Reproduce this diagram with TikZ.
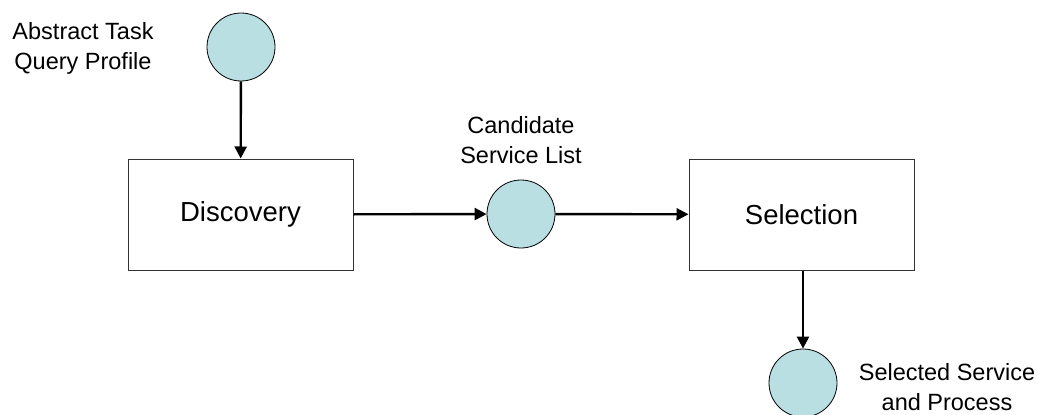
\documentclass[tikz,border=0pt]{standalone}
\usepackage{fontspec}
\setmainfont{Liberation Sans}
\usetikzlibrary{arrows.meta}
\definecolor{circfill}{RGB}{185,223,227}
\begin{document}
\begin{tikzpicture}[x=1pt,y=-1pt,
  datacirc/.style={circle,draw=black,line width=0.8pt,fill=circfill,minimum size=68pt,inner sep=0pt},
  procbox/.style={draw=black!80,line width=1pt,minimum width=225pt,minimum height=111pt,inner sep=0pt,font=\fontsize{27.5}{32}\selectfont},
  lbl/.style={align=center,font=\fontsize{23.5}{30}\selectfont,inner sep=0pt},
  flow/.style={line width=2.4pt,-{Triangle[length=12pt,width=12pt]}}]
\useasboundingbox (0,0) rectangle (1037,415);
\node[datacirc] (c1) at (241,47) {};
\node[procbox] (disc) at (240.5,214.5) {Discovery};
\node[datacirc] (c2) at (521,214) {};
\node[procbox] (sel) at (801.5,214.5) {Selection};
\node[datacirc] (c3) at (803,383) {};
\node[lbl] (l1) at (83,48) {Abstract Task\\Query Profile};
\node[lbl] (l2) at (521,140) {Candidate\\Service List};
\node[lbl] (l3) at (947,387) {Selected Service\\and Process};
\draw[flow] (c1) -- (disc);
\draw[flow] (disc) -- (c2);
\draw[flow] (c2) -- (sel);
\draw[flow] (sel.south -| c3) -- (c3);
\end{tikzpicture}
\end{document}
